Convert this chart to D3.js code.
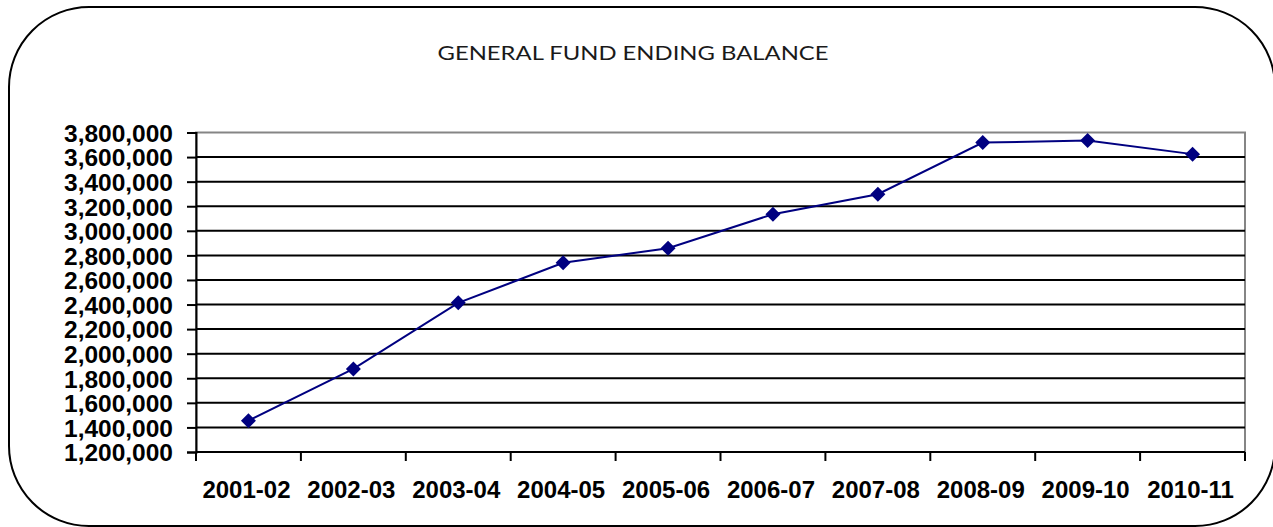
<html>
<head>
<script src="https://d3js.org/d3.v7.min.js"></script>
<style>
  body { margin: 0; background: #fff; }
</style>
</head>
<body>
<div id="chart"></div>
<script>

// data
const years = ['2001-02', '2002-03', '2003-04', '2004-05', '2005-06',
               '2006-07', '2007-08', '2008-09', '2009-10', '2010-11'];
const balance = [1455000, 1876000, 2414000, 2740000, 2858000,
                 3135000, 3298000, 3718000, 3734000, 3624000];
const yTicks = [1200000, 1400000, 1600000, 1800000, 2000000, 2200000, 2400000,
                2600000, 2800000, 3000000, 3200000, 3400000, 3600000, 3800000];
const title = 'GENERAL FUND ENDING BALANCE';

// constants
const canvas = [1273, 527];
const plot = {left: 196, right: 1245, top: 132.5, bottom: 452};

const svg = d3.select('#chart').append('svg')
  .attr('width', canvas[0])
  .attr('height', canvas[1]);

// rounded frame
svg.append('rect')
  .attr('x', 9).attr('y', 7)
  .attr('width', 1266).attr('height', 519)
  .attr('rx', 80).attr('ry', 80)
  .style('fill', 'none')
  .style('stroke', '#000')
  .style('stroke-width', 2);

// title
svg.append('text')
  .attr('x', 633).attr('y', 60)
  .attr('text-anchor', 'middle')
  .attr('textLength', 391)
  .attr('lengthAdjust', 'spacingAndGlyphs')
  .style('font-family', 'Lato, "DejaVu Sans", sans-serif')
  .style('font-size', '20px')
  .style('fill', '#1a1a1a')
  .text(title);

// scales
const x = d3.scaleBand().domain(years).range([plot.left, plot.right]);
const y = d3.scaleLinear().domain([1200000, 3800000]).range([plot.bottom, plot.top]);

// plot border (grey top/right)
svg.append('rect')
  .attr('x', plot.left).attr('y', plot.top)
  .attr('width', plot.right - plot.left).attr('height', plot.bottom - plot.top)
  .style('fill', 'none')
  .style('stroke', '#858585')
  .style('stroke-width', 2);

// gridlines
svg.append('g').selectAll('line')
  .data(yTicks.filter(d => d < 3800000))
  .join('line')
  .attr('x1', plot.left).attr('x2', plot.right)
  .attr('y1', d => y(d)).attr('y2', d => y(d))
  .style('stroke', '#000')
  .style('stroke-width', 2);

// y axis
const yAxis = svg.append('g')
  .attr('transform', `translate(${plot.left},0)`)
  .call(d3.axisLeft(y).tickValues(yTicks).tickSize(9).tickPadding(14)
    .tickFormat(d3.format(',')));
yAxis.select('.domain').style('stroke-width', 2);
yAxis.selectAll('.tick line').style('stroke-width', 2);
yAxis.selectAll('text')
  .style('font-family', '"Liberation Sans", Arial, sans-serif')
  .style('font-weight', 'bold')
  .style('font-size', '24.5px')
  .attr('dy', '0.36em');

// x axis labels
const xAxis = svg.append('g')
  .attr('transform', `translate(-2,${plot.bottom})`)
  .call(d3.axisBottom(x).tickSize(0).tickPadding(29));
xAxis.select('.domain').remove();
xAxis.selectAll('text')
  .style('font-family', '"Liberation Sans", Arial, sans-serif')
  .style('font-weight', 'bold')
  .style('font-size', '24px');

// bottom axis line and ticks between categories
svg.append('line')
  .attr('x1', plot.left).attr('x2', plot.right)
  .attr('y1', plot.bottom).attr('y2', plot.bottom)
  .style('stroke', '#000')
  .style('stroke-width', 2);
svg.append('g').selectAll('line')
  .data(years.map(d => x(d)).concat([plot.right]))
  .join('line')
  .attr('x1', d => d).attr('x2', d => d)
  .attr('y1', plot.bottom).attr('y2', plot.bottom + 9)
  .style('stroke', '#000')
  .style('stroke-width', 2);

// line
const pts = years.map((d, i) => [x(d) + x.bandwidth() / 2, y(balance[i])]);
svg.append('path')
  .attr('d', d3.line()(pts))
  .style('fill', 'none')
  .style('stroke', '#000080')
  .style('stroke-width', 2);

// markers
svg.append('g').selectAll('path')
  .data(pts)
  .join('path')
  .attr('transform', d => `translate(${d[0]},${d[1]})`)
  .attr('d', 'M0,-7.5L7.5,0L0,7.5L-7.5,0Z')
  .style('fill', '#000080');

</script>
</body>
</html>
